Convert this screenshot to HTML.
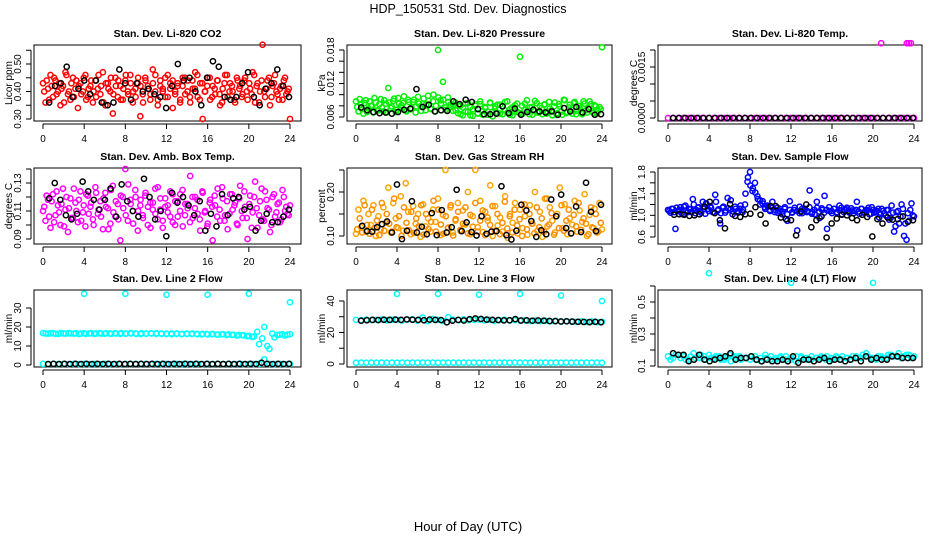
<!DOCTYPE html>
<html><head><meta charset="utf-8"><style>
html,body{margin:0;padding:0;background:#fff}
svg{display:block;font-family:"Liberation Sans",sans-serif}
</style></head><body>
<svg id="chart" width="936" height="540" viewBox="0 0 936 540">
<rect width="936" height="540" fill="#fff"/>
<text x="468" y="13" text-anchor="middle" font-size="12.5">HDP_150531 Std. Dev. Diagnostics</text>
<text x="468" y="531" text-anchor="middle" font-size="13">Hour of Day (UTC)</text>
</svg>
<script>
const xTicks=[0,4,8,12,16,20,24];
const co2Vals=[0.43,0.36,0.41,0.46,0.38,0.44,0.40,0.35,0.42,0.47,0.39,0.37,0.45,0.41,0.34,0.43,0.40,0.46,0.38,0.42,0.36,0.44,0.41,0.39,0.47,0.35,0.43,0.40,0.32,0.45,0.38,0.42,0.37,0.44,0.40,0.46,0.36,0.41,0.43,0.31,0.39,0.45,0.42,0.37,0.48,0.40,0.35,0.44,0.41,0.38,0.46,0.43,0.34,0.40,0.42,0.37,0.45,0.39,0.44,0.36,0.41,0.47,0.38,0.43,0.30,0.40,0.45,0.37,0.42,0.39,0.44,0.35,0.41,0.46,0.38,0.43,0.40,0.36,0.44,0.42,0.39,0.45,0.37,0.41,0.47,0.36,0.43,0.40,0.57,0.38,0.44,0.35,0.42,0.46,0.39,0.41,0.37,0.45,0.40,0.30];
const co2ValsB=[0.40,0.44,0.37,0.42,0.45,0.39,0.43,0.41,0.36,0.46,0.40,0.43,0.38,0.44,0.42,0.39,0.45,0.37,0.41,0.44,0.40,0.38,0.46,0.42,0.36,0.43,0.41,0.45,0.39,0.42,0.44,0.37,0.41,0.46,0.39,0.43,0.40,0.38,0.45,0.42,0.36,0.44,0.41,0.39,0.43,0.46,0.37,0.42,0.40,0.45,0.38,0.41,0.44,0.39,0.43,0.36,0.42,0.45,0.40,0.38,0.44,0.41,0.46,0.37,0.43,0.40,0.42,0.45,0.38,0.41,0.44,0.39,0.36,0.43,0.46,0.40,0.42,0.37,0.45,0.41,0.38,0.44,0.40,0.43,0.39,0.46,0.42,0.36,0.44,0.40,0.41,0.45,0.38,0.43,0.40,0.37,0.42,0.44,0.39,0.41];
const co2Black=[0.36,0.42,0.43,0.49,0.38,0.41,0.44,0.39,0.44,0.36,0.35,0.36,0.48,0.43,0.37,0.43,0.40,0.41,0.39,0.38,0.34,0.42,0.50,0.44,0.45,0.40,0.35,0.45,0.51,0.49,0.38,0.37,0.38,0.43,0.47,0.38,0.35,0.41,0.43,0.48,0.42,0.38];
const presVals=[0.0088,0.0070,0.0082,0.0066,0.0090,0.0075,0.0080,0.0068,0.0086,0.0072,0.0092,0.0070,0.0084,0.0112,0.0076,0.0089,0.0069,0.0094,0.0078,0.0085,0.0071,0.0091,0.0074,0.0087,0.0068,0.0096,0.0079,0.0083,0.0072,0.0098,0.0075,0.0088,0.0070,0.0180,0.0090,0.0123,0.0077,0.0095,0.0082,0.0071,0.0086,0.0067,0.0080,0.0063,0.0084,0.0069,0.0078,0.0062,0.0083,0.0066,0.0088,0.0064,0.0076,0.0070,0.0085,0.0061,0.0079,0.0067,0.0082,0.0065,0.0087,0.0068,0.0074,0.0063,0.0081,0.0069,0.0168,0.0066,0.0084,0.0071,0.0077,0.0064,0.0089,0.0068,0.0080,0.0065,0.0083,0.0070,0.0075,0.0063,0.0086,0.0067,0.0079,0.0064,0.0090,0.0069,0.0082,0.0066,0.0087,0.0071,0.0076,0.0065,0.0084,0.0068,0.0088,0.0070,0.0081,0.0066,0.0078,0.0185];
const presValsB=[0.0078,0.0092,0.0074,0.0085,0.0069,0.0088,0.0080,0.0094,0.0072,0.0083,0.0077,0.0090,0.0068,0.0086,0.0079,0.0093,0.0073,0.0084,0.0081,0.0097,0.0070,0.0087,0.0076,0.0091,0.0079,0.0084,0.0071,0.0093,0.0082,0.0089,0.0074,0.0100,0.0080,0.0095,0.0084,0.0091,0.0073,0.0087,0.0078,0.0082,0.0072,0.0081,0.0065,0.0077,0.0070,0.0085,0.0063,0.0074,0.0080,0.0067,0.0083,0.0071,0.0078,0.0064,0.0086,0.0069,0.0075,0.0082,0.0066,0.0079,0.0072,0.0088,0.0064,0.0077,0.0070,0.0084,0.0067,0.0080,0.0073,0.0090,0.0065,0.0078,0.0071,0.0085,0.0068,0.0076,0.0082,0.0066,0.0087,0.0072,0.0079,0.0064,0.0083,0.0070,0.0091,0.0067,0.0077,0.0073,0.0085,0.0065,0.0080,0.0069,0.0088,0.0072,0.0076,0.0083,0.0067,0.0079,0.0071,0.0074];
const presBlack=[0.0077,0.0072,0.0069,0.0067,0.0068,0.0066,0.0069,0.0073,0.0075,0.0110,0.0078,0.0082,0.0070,0.0072,0.0071,0.0088,0.0083,0.0091,0.0087,0.0074,0.0065,0.0065,0.0066,0.0079,0.0067,0.0075,0.0064,0.0069,0.0073,0.0070,0.0068,0.0070,0.0064,0.0076,0.0070,0.0078,0.0068,0.0074,0.0064,0.0065];
const tempVals=[0,0,0,0,0,0,0,0,0,0,0,0,0,0,0,0,0,0,0,0,0,0,0,0,0,0,0,0,0,0,0,0,0,0,0,0,0,0,0,0,0,0,0,0,0,0,0,0,0];
const tempBlack=[0,0,0,0,0,0,0,0,0,0,0,0,0,0,0,0,0,0,0,0,0,0,0,0,0,0,0,0,0,0,0,0,0,0,0,0,0,0,0,0,0];
const tempOutHours=[20.8,23.3,23.5,23.7];
const tempOutVals=[0.0022,0.0022,0.0022,0.0022];
const ambVals=[0.110,0.103,0.118,0.098,0.122,0.107,0.114,0.100,0.126,0.111,0.095,0.119,0.105,0.116,0.102,0.124,0.109,0.099,0.121,0.113,0.104,0.127,0.108,0.117,0.097,0.123,0.112,0.101,0.128,0.106,0.115,0.089,0.120,0.140,0.103,0.118,0.110,0.125,0.096,0.114,0.107,0.121,0.100,0.116,0.111,0.126,0.104,0.119,0.098,0.113,0.109,0.124,0.102,0.117,0.106,0.122,0.099,0.115,0.112,0.135,0.105,0.120,0.108,0.096,0.123,0.110,0.101,0.118,0.089,0.114,0.126,0.103,0.119,0.107,0.097,0.122,0.111,0.116,0.100,0.128,0.105,0.113,0.090,0.121,0.109,0.131,0.098,0.117,0.104,0.124,0.112,0.095,0.120,0.106,0.115,0.102,0.125,0.110,0.108,0.114];
const ambValsB=[0.113,0.121,0.106,0.117,0.102,0.124,0.109,0.115,0.099,0.120,0.112,0.105,0.126,0.110,0.118,0.103,0.114,0.122,0.108,0.116,0.100,0.123,0.111,0.106,0.119,0.113,0.097,0.125,0.109,0.117,0.104,0.121,0.112,0.107,0.129,0.115,0.101,0.120,0.110,0.118,0.105,0.123,0.113,0.098,0.116,0.108,0.127,0.111,0.103,0.119,0.114,0.106,0.122,0.100,0.117,0.110,0.125,0.107,0.115,0.102,0.120,0.112,0.118,0.104,0.124,0.109,0.099,0.116,0.113,0.121,0.106,0.111,0.127,0.103,0.117,0.108,0.122,0.114,0.101,0.119,0.110,0.124,0.105,0.115,0.098,0.120,0.112,0.107,0.126,0.103,0.118,0.111,0.100,0.122,0.109,0.116,0.104,0.120,0.113,0.107];
const ambBlack=[0.119,0.130,0.118,0.107,0.104,0.108,0.131,0.124,0.118,0.111,0.118,0.126,0.106,0.129,0.117,0.110,0.106,0.133,0.120,0.104,0.110,0.092,0.123,0.116,0.120,0.114,0.107,0.117,0.096,0.108,0.099,0.122,0.107,0.119,0.120,0.111,0.113,0.096,0.103,0.108,0.102,0.102,0.106,0.111];
const rhVals=[0.105,0.160,0.120,0.180,0.110,0.150,0.125,0.170,0.100,0.145,0.115,0.165,0.130,0.210,0.108,0.175,0.140,0.118,0.190,0.112,0.220,0.155,0.104,0.168,0.128,0.150,0.098,0.172,0.122,0.140,0.110,0.160,0.132,0.185,0.102,0.148,0.250,0.118,0.165,0.108,0.135,0.175,0.112,0.158,0.126,0.200,0.104,0.145,0.250,0.120,0.180,0.109,0.155,0.135,0.215,0.100,0.168,0.124,0.142,0.110,0.190,0.096,0.150,0.130,0.175,0.106,0.160,0.118,0.145,0.103,0.170,0.128,0.200,0.112,0.155,0.098,0.185,0.122,0.165,0.135,0.108,0.150,0.210,0.118,0.172,0.104,0.140,0.126,0.180,0.110,0.158,0.132,0.195,0.100,0.148,0.120,0.162,0.108,0.175,0.115];
const rhValsB=[0.115,0.140,0.108,0.170,0.125,0.105,0.160,0.118,0.135,0.102,0.175,0.112,0.150,0.128,0.110,0.185,0.120,0.145,0.100,0.165,0.130,0.113,0.155,0.107,0.140,0.122,0.170,0.103,0.150,0.116,0.132,0.180,0.110,0.160,0.126,0.105,0.145,0.119,0.170,0.101,0.138,0.155,0.114,0.128,0.165,0.106,0.148,0.121,0.175,0.110,0.135,0.158,0.102,0.142,0.125,0.168,0.112,0.150,0.104,0.130,0.178,0.117,0.145,0.108,0.160,0.124,0.138,0.100,0.172,0.115,0.150,0.128,0.106,0.165,0.120,0.140,0.110,0.185,0.126,0.152,0.103,0.145,0.118,0.170,0.112,0.135,0.160,0.106,0.148,0.122,0.175,0.114,0.140,0.128,0.104,0.165,0.118,0.150,0.110,0.130];
const rhBlack=[0.123,0.111,0.110,0.120,0.127,0.133,0.108,0.217,0.093,0.112,0.179,0.108,0.121,0.104,0.152,0.102,0.159,0.108,0.120,0.205,0.111,0.131,0.109,0.101,0.145,0.105,0.110,0.111,0.213,0.102,0.092,0.112,0.171,0.158,0.134,0.098,0.113,0.104,0.183,0.145,0.194,0.118,0.106,0.167,0.109,0.221,0.155,0.111,0.171];
const flowVals=[1.10,1.05,1.12,0.75,1.08,1.15,1.02,1.18,1.06,1.11,1.30,1.04,1.14,1.08,1.25,1.03,1.12,1.17,1.06,1.38,1.09,0.85,1.14,1.05,1.32,1.10,1.02,1.16,1.08,1.12,1.06,1.20,1.62,1.80,1.45,1.60,1.35,1.28,1.22,1.15,1.18,1.10,1.25,1.06,1.14,1.08,1.02,1.12,0.90,1.26,1.05,1.10,0.72,1.16,1.04,1.12,1.08,1.46,1.06,1.02,1.14,0.95,1.10,1.36,0.75,1.08,1.04,1.12,1.06,1.18,1.02,1.10,1.14,1.05,1.09,1.08,1.25,1.03,1.12,1.06,1.10,1.02,1.15,1.05,1.08,0.96,1.12,1.04,1.10,0.92,1.18,0.70,1.06,0.85,1.20,0.62,0.55,0.90,1.22,0.98];
const flowValsB=[1.08,1.12,1.06,1.14,1.10,1.04,1.16,1.09,1.12,1.06,1.20,1.10,1.15,1.05,1.12,1.22,1.08,1.14,1.06,1.25,1.11,1.04,1.16,1.09,1.13,1.28,1.07,1.12,1.05,1.18,1.10,1.40,1.70,1.55,1.50,1.42,1.30,1.20,1.26,1.12,1.16,1.08,1.14,1.10,1.05,1.12,1.07,1.15,1.02,1.10,1.06,1.14,1.08,1.04,1.12,1.09,1.06,1.15,1.03,1.10,1.25,1.07,1.13,1.05,1.10,1.15,1.08,1.12,1.05,1.10,1.14,1.06,1.11,1.08,1.13,1.04,1.10,1.07,1.12,1.05,1.09,1.14,1.03,1.10,1.06,1.12,1.02,1.08,1.00,1.10,0.95,1.05,0.80,1.08,0.98,1.12,0.85,1.04,1.10,1.00];
const flowBlack=[1.01,1.02,1.01,0.99,1.00,1.02,1.16,1.25,1.04,0.91,0.76,1.21,0.99,0.97,1.02,1.03,1.15,1.01,0.85,1.17,1.17,0.96,0.93,0.91,0.63,1.07,1.20,0.78,0.91,0.98,0.59,0.85,0.94,1.01,1.00,0.95,0.91,1.01,0.97,0.61,0.93,0.85,0.96,0.92,0.93,0.98,0.88,0.91];
const line2Vals=[16.8,16.5,16.7,16.4,16.6,16.8,16.5,16.3,16.7,16.6,16.4,16.8,16.5,16.6,16.7,16.4,16.5,16.8,16.6,16.3,16.5,16.7,16.4,16.6,16.5,16.2,16.6,16.4,16.3,16.5,16.2,16.4,16.1,16.3,16.0,16.2,16.1,15.9,15.8,15.6,15.3,15.0,11.0,20.0,8.5,14.5,16.0,15.5,16.2];
const line2ValsB=[16.6,16.7,16.4,16.8,16.5,16.6,16.7,16.5,16.4,16.8,16.6,16.5,16.7,16.4,16.6,16.8,16.5,16.6,16.4,16.7,16.5,16.6,16.7,16.4,16.3,16.5,16.4,16.2,16.5,16.3,16.4,16.1,16.3,16.2,16.0,16.1,15.8,15.9,15.5,15.7,15.2,14.8,17.5,14.0,10.0,16.5,15.8,16.2,16.0];
const line2Low=[0.6,0.5,0.6,0.5,0.6,0.5,0.6,0.5,0.6,0.5,0.6,0.5,0.6,0.5,0.6,0.5,0.6,0.5,0.6,0.5,0.6,0.5,0.6,0.5,0.6,0.5,0.6,0.5,0.6,0.5,0.6,0.5,0.6,0.5,0.6,0.5,0.6,0.5,0.6,0.5,0.6,0.5,0.6,3.0,0.6,0.5,0.6,0.5,0.6];
const line2Black=[0.5,0.6,0.5,0.6,0.5,0.6,0.5,0.6,0.5,0.6,0.5,0.6,0.5,0.6,0.5,0.6,0.5,0.6,0.5,0.6,0.5,0.6,0.5,0.6,0.5,0.6,0.5,0.6,0.5,0.6,0.5,0.6,0.5,0.6,0.5,0.6,0.5,0.6,0.5,1.2,0.6,0.5,0.6,0.5,0.6];
const line2OutHours=[4,8,12,16,20,24];
const line2OutVals=[37.5,37.5,37,37,37.5,33];
const line3Vals=[28,27.8,28.2,27.9,28,28.3,27.7,28.1,28,27.6,28.2,28.4,27.5,29.5,27.2,28.6,28,27.3,29.8,28.1,27.8,28.4,27.9,28,28.2,27.7,28,27.4,27.9,28.1,27.6,27.9,27.5,27.8,27.3,27.6,27.2,27.5,27.1,27.4,26.9,27.2,27.0,26.8,27.1,26.7,27.0,26.6,26.8];
const line3Low=[0.8,0.9,0.8,0.9,0.8,0.9,0.8,0.9,0.8,0.9,0.8,0.9,0.8,0.9,0.8,0.9,0.8,0.9,0.8,0.9,0.8,0.9,0.8,0.9,0.8,0.9,0.8,0.9,0.8,0.9,0.8,0.9,0.8,0.9,0.8,0.9,0.8,0.9,0.8,0.9,0.8,0.9,0.8,0.9,0.8,0.9,0.8,0.9,0.8];
const line3Black=[27.5,27.8,28,27.9,28.1,28,28.2,28,28.3,28.1,28,27.8,28.2,28,27.9,26.5,27.5,28,27.6,28.4,28.9,28.6,28.2,28,27.9,27.7,27.8,28.5,27.6,27.7,27.5,27.6,27.5,27.3,27.2,27.0,27.1,26.9,26.8,26.7,26.6,26.8,26.5];
const line3OutHours=[4,8,12,16,20,24];
const line3OutVals=[44.5,44.5,44,44.5,43.5,40];
const line4Vals=[0.16,0.15,0.17,0.16,0.14,0.18,0.15,0.16,0.17,0.15,0.16,0.14,0.17,0.15,0.16,0.15,0.14,0.16,0.15,0.17,0.14,0.15,0.16,0.14,0.15,0.16,0.15,0.14,0.16,0.15,0.15,0.16,0.14,0.15,0.16,0.15,0.16,0.15,0.17,0.16,0.15,0.16,0.15,0.17,0.16,0.18,0.16,0.17,0.16];
const line4ValsB=[0.14,0.17,0.15,0.14,0.16,0.15,0.17,0.14,0.15,0.16,0.14,0.15,0.13,0.16,0.14,0.15,0.16,0.14,0.13,0.15,0.16,0.14,0.15,0.16,0.14,0.13,0.16,0.15,0.14,0.15,0.16,0.14,0.15,0.16,0.14,0.15,0.14,0.16,0.15,0.18,0.15,0.14,0.16,0.15,0.17,0.16,0.15,0.17,0.15];
const line4Black=[0.18,0.17,0.17,0.13,0.14,0.17,0.14,0.13,0.14,0.15,0.16,0.18,0.14,0.15,0.15,0.16,0.14,0.13,0.14,0.13,0.13,0.14,0.13,0.16,0.12,0.14,0.14,0.13,0.14,0.15,0.13,0.14,0.14,0.13,0.14,0.15,0.13,0.16,0.14,0.15,0.14,0.14,0.16,0.16,0.15,0.15,0.15];
const line4OutHours=[4,12,20];
const line4OutVals=[0.68,0.62,0.62];

const NS='http://www.w3.org/2000/svg';
const svg=document.getElementById('chart');
function mk(tag,attrs,parent){const e=document.createElementNS(NS,tag);for(const k in attrs)e.setAttribute(k,attrs[k]);(parent||svg).appendChild(e);return e;}
const cols=[{l:34,r:301,x0:43,x24:290,yt:7},{l:347,r:612,x0:356,x24:602,yt:320},{l:658,r:922,x0:668,x24:914,yt:632}];
const rows=[{t:45,b:121},{t:168,b:244},{t:290,b:367}];

function panel(name,ci,ri,title,ylab,yA,pA,yB,pB,yTicks,yLabels,series){
  const c=cols[ci],r=rows[ri];
  const g=mk('g',{});
  
  
  const xs=h=>c.x0+(c.x24-c.x0)*h/24;
  const ys=v=>pA+(pB-pA)*(v-yA)/(yB-yA);
  const box=mk('rect',{x:c.l,y:r.t,width:c.r-c.l,height:r.b-r.t,fill:'none',stroke:'#000','stroke-width':1},g);
  
  
  const t=mk('text',{x:(c.l+c.r)/2,y:r.t-8,'text-anchor':'middle','font-size':10.5,'font-weight':'bold'},g);
  t.textContent=title;
  
  
  const yl=mk('text',{x:c.yt+5,y:(r.t+r.b)/2,'text-anchor':'middle','font-size':10,transform:`rotate(-90 ${c.yt+5} ${(r.t+r.b)/2})`},g);
  yl.textContent=ylab;
  
  
  mk('line',{x1:xs(0),x2:xs(24),y1:r.b+3,y2:r.b+3,stroke:'#000'},g);
  xTicks.forEach(h=>{
    mk('line',{x1:xs(h),x2:xs(h),y1:r.b+3,y2:r.b+8,stroke:'#000'},g);
    const tl=mk('text',{x:xs(h),y:r.b+21,'text-anchor':'middle','font-size':10},g);
    tl.textContent=h;
    
    
  });
  const ax=c.l-3;
  mk('line',{x1:ax,x2:ax,y1:ys(yTicks[0]),y2:ys(yTicks[yTicks.length-1]),stroke:'#000'},g);
  yTicks.forEach((v,i)=>{
    mk('line',{x1:ax-5,x2:ax,y1:ys(v),y2:ys(v),stroke:'#000'},g);
    if(yLabels[i]){
      const lx=ax-10,ly=ys(v);
      const tl=mk('text',{x:lx,y:ly,'text-anchor':'middle','font-size':10,transform:`rotate(-90 ${lx} ${ly})`},g);
      tl.textContent=yLabels[i];
      
      
    }
  });
  series.forEach(s=>{
    const n=s.vals.length;
    s.vals.forEach((v,i)=>{
      const h=s.hours?s.hours[i]:(s.start||0)+((s.end||24)-(s.start||0))*i/(n-1);
      const p=mk('circle',{cx:xs(h),cy:ys(v),r:2.6,fill:'none',stroke:s.color,'stroke-width':1.5},g);
      
      
    });
  });
}
panel('co2',0,0,'Stan. Dev. Li-820 CO2','Licor ppm',0.30,119,0.50,64,[0.30,0.35,0.40,0.45,0.50,0.55],['0.30','','0.40','','0.50',''],
  [{vals:co2Vals,color:'#ff0000'},{vals:co2ValsB,color:'#ff0000',start:0.12,end:23.88},{vals:co2Black,color:'#000',start:0.6,end:23.9}]);
panel('pressure',1,0,'Stan. Dev. Li-820 Pressure','kPa',0.006,117,0.018,50,[0.006,0.008,0.010,0.012,0.014,0.016,0.018],['0.006','','','0.012','','','0.018'],
  [{vals:presVals,color:'#00ee00'},{vals:presValsB,color:'#00ee00',start:0.12,end:23.88},{vals:presBlack,color:'#000',start:0.5,end:23.9}]);
panel('temp',2,0,'Stan. Dev. Li-820 Temp.','degrees C',0,118,0.0015,67,[0,0.0005,0.0010,0.0015,0.0020],['0.0000','','','0.0015',''],
  [{vals:tempVals,color:'#ff00ff'},{vals:tempBlack,color:'#000',start:0.5,end:23.9},{vals:tempOutVals,hours:tempOutHours,color:'#ff00ff'}]);
panel('amb-temp',0,1,'Stan. Dev. Amb. Box Temp.','degrees C',0.09,239,0.13,183,[0.09,0.10,0.11,0.12,0.13,0.14],['0.09','','0.11','','0.13',''],
  [{vals:ambVals,color:'#ff00ff'},{vals:ambValsB,color:'#ff00ff',start:0.12,end:23.88},{vals:ambBlack,color:'#000',start:0.6,end:23.9}]);
panel('gas-rh',1,1,'Stan. Dev. Gas Stream RH','percent',0.10,236,0.20,192,[0.10,0.15,0.20,0.25],['0.10','','0.20',''],
  [{vals:rhVals,color:'#ffa500'},{vals:rhValsB,color:'#ff8c00',start:0.12,end:23.88},{vals:rhBlack,color:'#000',start:0.6,end:23.9}]);
panel('sample-flow',2,1,'Stan. Dev. Sample Flow','ml/min',0.6,237,1.8,172,[0.6,0.8,1.0,1.2,1.4,1.6,1.8],['0.6','','1.0','','1.4','','1.8'],
  [{vals:flowVals,color:'#0000ff'},{vals:flowValsB,color:'#0000ff',start:0.12,end:23.88},{vals:flowBlack,color:'#000',start:0.6,end:23.9}]);
panel('line2-flow',0,2,'Stan. Dev. Line 2 Flow','ml/min',0,365,30,308,[0,10,20,30],['0','10','20','30'],
  [{vals:line2Vals,color:'#00ffff'},{vals:line2ValsB,color:'#00ffff',start:0.25,end:23.75},{vals:line2Low,color:'#00ffff'},{vals:line2Black,color:'#000',start:0.5,end:23.9},{vals:line2OutVals,hours:line2OutHours,color:'#00ffff'}]);
panel('line3-flow',1,2,'Stan. Dev. Line 3 Flow','ml/min',0,364,40,301,[0,10,20,30,40],['0','','20','','40'],
  [{vals:line3Vals,color:'#00ffff'},{vals:line3Low,color:'#00ffff'},{vals:line3Black,color:'#000',start:0.5,end:23.9},{vals:line3OutVals,hours:line3OutHours,color:'#00ffff'}]);
panel('line4-flow',2,2,'Stan. Dev. Line 4 (LT) Flow','ml/min',0.1,366,0.5,302,[0.1,0.2,0.3,0.4,0.5,0.6],['0.1','','0.3','','0.5',''],
  [{vals:line4Vals,color:'#00ffff'},{vals:line4ValsB,color:'#00ffff',start:0.25,end:23.75},{vals:line4Black,color:'#000',start:0.5,end:23.9},{vals:line4OutVals,hours:line4OutHours,color:'#00ffff'}]);
</script>
</body></html>
